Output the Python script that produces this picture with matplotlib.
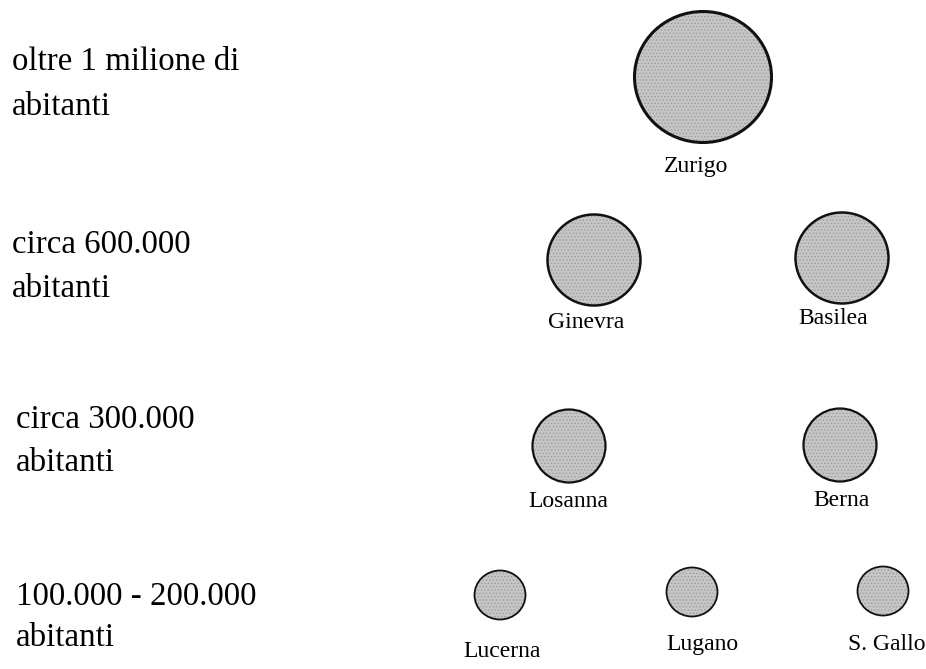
import matplotlib.pyplot as plt
from matplotlib.patches import Ellipse

# data: population classes and the cities in each
group_labels = ["oltre 1 milione di\nabitanti",
                "circa 600.000\nabitanti",
                "circa 300.000\nabitanti",
                "100.000 - 200.000\nabitanti"]
group_cities = [["Zurigo"],
                ["Ginevra", "Basilea"],
                ["Losanna", "Berna"],
                ["Lucerna", "Lugano", "S. Gallo"]]

# layout (pixel coordinates, y downwards)
label_x = [12, 12, 16, 16]
label_baselines = [(70, 115), (253, 297), (428, 471), (605, 646)]
circle_w = [137, 93, 73, 51]
circle_h = [131, 91, 73, 49]
circle_xy = [[(703, 77)],
             [(594, 260), (842, 258)],
             [(569, 446), (840, 445)],
             [(500, 595), (692, 592), (883, 591)]]
name_xy = [[(696, 172)],
           [(586, 328), (833, 324)],
           [(568, 507), (841, 506)],
           [(502, 657), (702, 650), (887, 650)]]
edge_lw = [2.2, 1.8, 1.6, 1.3]

plt.rcParams['font.family'] = ['Liberation Serif', 'DejaVu Serif']
plt.rcParams['hatch.linewidth'] = 0.6

fig = plt.figure(figsize=(9.26, 6.69), dpi=100)
ax = fig.add_axes([0, 0, 1, 1])
ax.set_xlim(0, 926)
ax.set_ylim(669, 0)
ax.axis("off")

for g, label in enumerate(group_labels):
    for line, base in zip(label.split("\n"), label_baselines[g]):
        ax.text(label_x[g], base, line, fontsize=23.7,
                ha="left", va="baseline")
    for c, city in enumerate(group_cities[g]):
        cx, cy = circle_xy[g][c]
        # grey stippled disc, then the dark outline
        ax.add_patch(Ellipse((cx, cy), circle_w[g], circle_h[g],
                             facecolor="#c6c6c6", edgecolor="#9c9c9c",
                             lw=0, hatch="....."))
        ax.add_patch(Ellipse((cx, cy), circle_w[g], circle_h[g],
                             facecolor="none", edgecolor="#111111",
                             lw=edge_lw[g]))
        nx, ny = name_xy[g][c]
        ax.text(nx, ny, city, fontsize=17, ha="center", va="baseline")

fig.savefig("out.png", dpi=100)
